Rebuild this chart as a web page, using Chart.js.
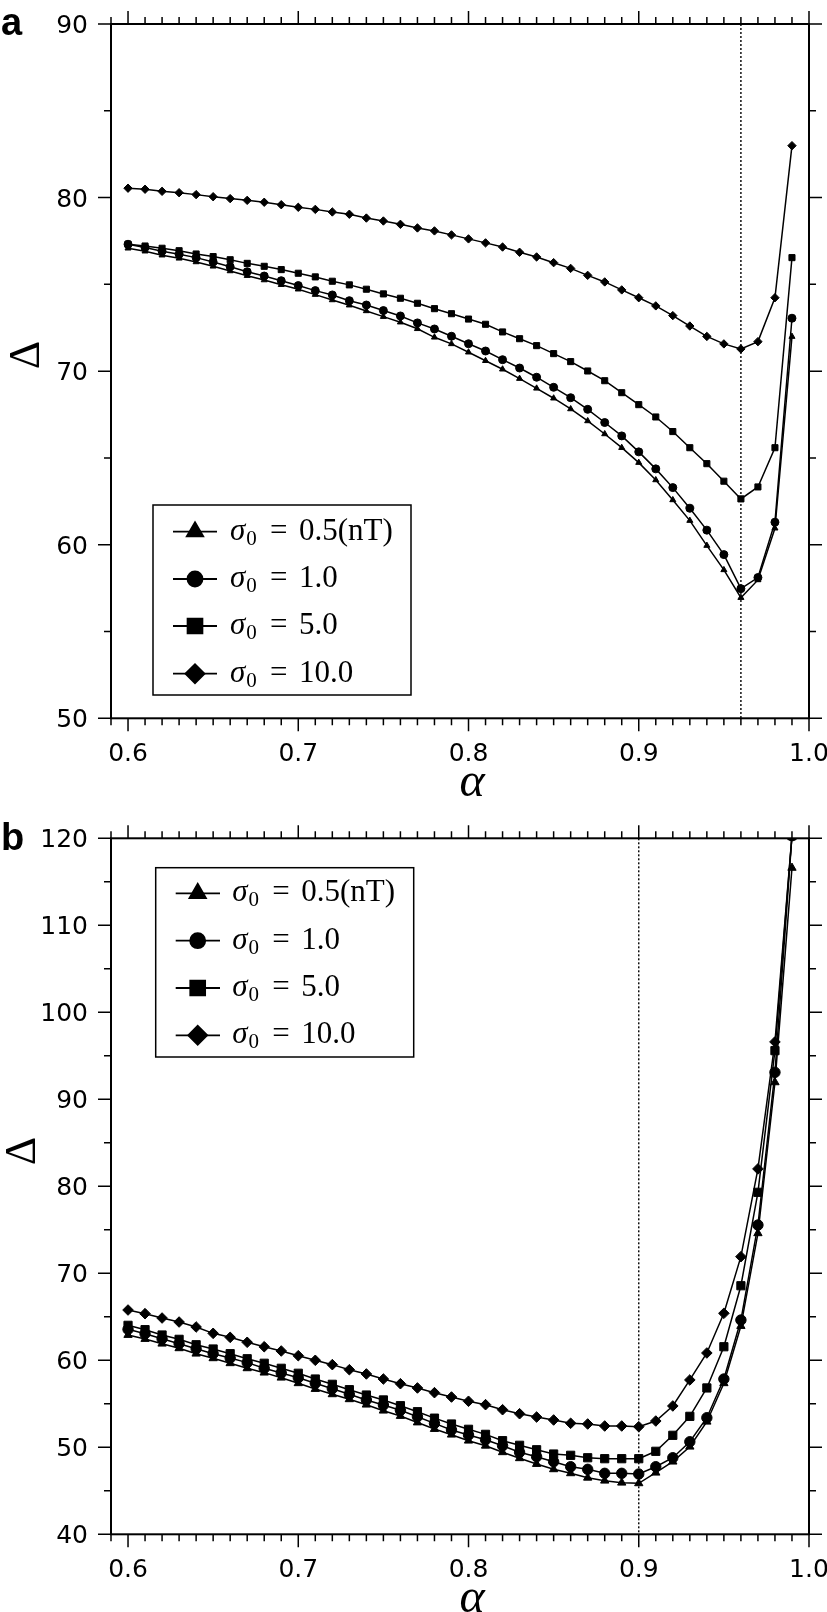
<!DOCTYPE html>
<html><head><meta charset="utf-8">
<script src="https://cdn.jsdelivr.net/npm/chart.js@4.4.1/dist/chart.umd.min.js"></script>
<style>
html,body{margin:0;padding:0;background:#fff;}
#wrap{position:relative;width:827px;height:1612px;overflow:hidden;}
.c{position:absolute;left:0;width:827px;}
canvas{display:block;}
</style></head><body>
<div id="wrap">
<div class="c" style="top:0;height:800px"><canvas id="ca" width="827" height="800"></canvas></div>
<div class="c" style="top:800px;height:812px"><canvas id="cb" width="827" height="812"></canvas></div>
</div>
<script>
// ---- data ----
const alpha = [0.60,0.61,0.62,0.63,0.64,0.65,0.66,0.67,0.68,0.69,
               0.70,0.71,0.72,0.73,0.74,0.75,0.76,0.77,0.78,0.79,
               0.80,0.81,0.82,0.83,0.84,0.85,0.86,0.87,0.88,0.89,
               0.90,0.91,0.92,0.93,0.94,0.95,0.96,0.97,0.98,0.99];

const seriesLabels = ["0.5(nT)", "1.0", "5.0", "10.0"];

// panel a
const a_s05 = [77.08,76.91,76.68,76.50,76.29,76.04,75.77,75.50,75.25,74.98,
               74.72,74.41,74.10,73.80,73.47,73.14,72.82,72.44,71.95,71.57,
               71.09,70.60,70.11,69.57,69.01,68.44,67.82,67.13,66.38,65.59,
               64.73,63.73,62.58,61.39,59.95,58.55,56.95,57.97,60.95,71.99];
const a_s1  = [77.31,77.12,76.91,76.73,76.54,76.29,76.02,75.73,75.48,75.21,
               74.93,74.64,74.39,74.06,73.81,73.49,73.18,72.78,72.43,72.01,
               71.58,71.16,70.66,70.18,69.65,69.07,68.47,67.80,67.04,66.27,
               65.35,64.37,63.29,62.10,60.84,59.43,57.47,58.11,61.30,73.05];
const a_s5  = [77.31,77.21,77.08,76.94,76.75,76.60,76.42,76.21,76.04,75.85,
               75.64,75.43,75.18,74.97,74.72,74.45,74.20,73.91,73.60,73.31,
               73.00,72.70,72.26,71.87,71.47,71.01,70.55,70.01,69.45,68.76,
               68.07,67.36,66.52,65.59,64.67,63.66,62.64,63.33,65.59,76.54];
const a_s10 = [80.54,80.48,80.36,80.28,80.17,80.05,79.94,79.84,79.73,79.59,
               79.44,79.32,79.17,79.04,78.82,78.65,78.46,78.25,78.08,77.85,
               77.62,77.39,77.15,76.85,76.58,76.25,75.92,75.52,75.14,74.68,
               74.23,73.76,73.20,72.60,72.00,71.57,71.28,71.70,74.23,82.99];

// panel b
const b_s05 = [62.91,62.45,61.91,61.38,60.76,60.23,59.66,59.08,58.58,58.00,
               57.36,56.70,56.09,55.52,54.90,54.21,53.60,52.85,52.10,51.45,
               50.76,50.18,49.43,48.74,48.08,47.47,47.01,46.50,46.16,45.93,
               45.86,47.08,48.35,50.07,52.94,57.36,63.94,74.60,91.95,116.6];
const b_s1  = [63.56,63.06,62.48,61.91,61.33,60.76,60.26,59.73,59.08,58.54,
               58.00,57.36,56.74,56.09,55.44,54.86,54.25,53.52,52.75,51.99,
               51.41,50.87,50.18,49.43,48.92,48.35,47.77,47.47,47.01,47.01,
               46.93,47.77,48.80,50.64,53.40,57.85,64.63,75.55,93.10,120.3];
const b_s5  = [64.02,63.52,62.91,62.41,61.79,61.30,60.76,60.18,59.66,59.08,
               58.51,57.85,57.24,56.62,56.01,55.44,54.78,54.09,53.35,52.68,
               52.07,51.49,50.76,50.23,49.72,49.23,49.08,48.80,48.69,48.69,
               48.69,49.54,51.38,53.56,56.82,61.56,68.57,79.31,95.59,120.3];
const b_s10 = [65.78,65.36,64.86,64.40,63.83,63.10,62.64,62.07,61.56,61.07,
               60.53,60.00,59.50,58.92,58.43,57.85,57.31,56.82,56.28,55.78,
               55.29,54.90,54.32,53.86,53.48,53.14,52.76,52.68,52.45,52.45,
               52.37,53.02,54.75,57.74,60.84,65.40,71.91,82.00,96.60,120.3];

// ticks
const xTickLabels = [0.6, 0.7, 0.8, 0.9, 1.0];
const aYTicks = [50, 60, 70, 80, 90];
const bYTicks = [40, 50, 60, 70, 80, 90, 100, 110, 120];
const aOptimum = 0.96;
const bOptimum = 0.90;

// ---- drawing ----
const pointStyles = ['triangle', 'circle', 'rect', 'rectRot'];

function mkDatasets(arrs, radii) {
  return arrs.map((arr, k) => ({
    label: seriesLabels[k],
    data: alpha.map((x, i) => ({x: x, y: arr[i]})),
    borderColor: '#000', backgroundColor: '#000',
    borderWidth: 1.5, pointStyle: pointStyles[k],
    pointRadius: radii[k], pointBorderWidth: 1,
    pointBackgroundColor: '#000', pointBorderColor: '#000',
    tension: 0
  }));
}

function drawMarker(ctx, style, r, x, y) {
  if (Chart.helpers && Chart.helpers.drawPoint) {
    Chart.helpers.drawPoint(ctx, {pointStyle: style, radius: r, rotation: 0, borderWidth: 1}, x, y);
  }
}

function framePlugin(cfg) {
  return {
    id: 'frame' + cfg.key,
    beforeDatasetsDraw(chart) {
      const ctx = chart.ctx, xs = chart.scales.x, a = chart.chartArea;
      const vx = xs.getPixelForValue(cfg.vline);
      ctx.save();
      ctx.strokeStyle = '#000'; ctx.lineWidth = 1.4; ctx.setLineDash([2, 2]);
      ctx.beginPath(); ctx.moveTo(vx, a.top); ctx.lineTo(vx, a.bottom); ctx.stroke();
      ctx.restore();
    },
    afterDraw(chart) {
      const ctx = chart.ctx, xs = chart.scales.x, ys = chart.scales.y, a = chart.chartArea;
      ctx.save();
      ctx.strokeStyle = '#000'; ctx.fillStyle = '#000';
      // frame
      ctx.lineWidth = 2;
      ctx.strokeRect(a.left, a.top, a.right - a.left, a.bottom - a.top);
      // x ticks (minor every 0.01)
      ctx.lineWidth = 1.5;
      ctx.beginPath();
      for (let i = 59; i <= 100; i++) {
        const px = xs.getPixelForValue(i / 100);
        const L = (i % 10 === 0) ? 13 : 7;
        ctx.moveTo(px, a.bottom); ctx.lineTo(px, a.bottom + L);
        ctx.moveTo(px, a.top); ctx.lineTo(px, a.top - L);
      }
      // y ticks (minor every 5)
      const yMin = cfg.yTicks[0], yMax = cfg.yTicks[cfg.yTicks.length - 1];
      for (let v = yMin; v <= yMax; v += 5) {
        const py = ys.getPixelForValue(v);
        const L = cfg.yTicks.includes(v) ? 13 : 7;
        ctx.moveTo(a.left, py); ctx.lineTo(a.left - L, py);
        ctx.moveTo(a.right, py); ctx.lineTo(a.right + L, py);
      }
      ctx.stroke();
      // tick labels
      ctx.font = '25px "DejaVu Sans"';
      ctx.textBaseline = 'alphabetic';
      ctx.textAlign = 'center';
      xTickLabels.forEach(v => {
        ctx.fillText(v.toFixed(1), xs.getPixelForValue(v), a.bottom + 43);
      });
      ctx.textAlign = 'right';
      cfg.yTicks.forEach(v => {
        ctx.fillText(String(v), a.left - 23, ys.getPixelForValue(v) + 9);
      });
      // panel letter
      ctx.textAlign = 'left';
      ctx.font = 'bold 38px "Liberation Sans"';
      ctx.fillText(cfg.letter, 1, cfg.letterY);
      // axis titles
      ctx.font = 'italic 48px "Liberation Serif"';
      ctx.textAlign = 'center';
      ctx.fillText('\u03B1', 472, a.bottom + 78);
      ctx.save();
      ctx.translate(cfg.deltaX, cfg.deltaY);
      ctx.rotate(-Math.PI / 2);
      ctx.font = '44px "Liberation Serif"';
      ctx.textAlign = 'center';
      ctx.fillText('\u0394', 0, 0);
      ctx.restore();
      // legend
      const L = cfg.legend;
      ctx.lineWidth = 1.5;
      ctx.strokeRect(L.x0, L.y0, L.x1 - L.x0, L.y1 - L.y0);
      chart.data.datasets.forEach((ds, k) => {
        const ry = L.rows[k];
        ctx.lineWidth = 1.8;
        ctx.beginPath(); ctx.moveTo(L.lx0, ry); ctx.lineTo(L.lx1, ry); ctx.stroke();
        ctx.fillStyle = '#000'; ctx.strokeStyle = '#000';
        drawMarker(ctx, pointStyles[k], [9.5, 7.5, 10.5, 9.5][k], L.mx, ry);
        // text: sigma_0 = value
        ctx.textAlign = 'left';
        ctx.font = 'italic 31px "Liberation Serif"';
        ctx.fillText('\u03C3', L.tx, ry + 8);
        const sw = ctx.measureText('\u03C3').width;
        ctx.font = '21px "Liberation Serif"';
        ctx.fillText('0', L.tx + sw + 1, ry + 13);
        ctx.font = '31px "Liberation Serif"';
        ctx.fillText('=', L.tx + 40, ry + 8);
        ctx.fillText(ds.label, L.tx + 69, ry + 8);
      });
      ctx.restore();
    }
  };
}

function mkChart(id, H, top, bottom, yTicks, arrs, radii, cfg) {
  cfg.yTicks = yTicks;
  return new Chart(document.getElementById(id), {
    type: 'line',
    data: {datasets: mkDatasets(arrs, radii)},
    options: {
      responsive: false, animation: false, maintainAspectRatio: false,
      layout: {padding: {left: 111, right: 18, top: top, bottom: H - bottom}},
      plugins: {legend: {display: false}, tooltip: {enabled: false}},
      scales: {
        x: {type: 'linear', display: false, min: 0.59, max: 1.0},
        y: {type: 'linear', display: false, min: yTicks[0], max: yTicks[yTicks.length - 1]}
      }
    },
    plugins: [framePlugin(cfg)]
  });
}

mkChart('ca', 800, 24, 718.3, aYTicks, [a_s05, a_s1, a_s5, a_s10], [3.5, 4, 4.3, 4.2], {
  key: 'a', vline: aOptimum, letter: 'a', letterY: 35, deltaX: 39, deltaY: 355,
  legend: {x0: 153, y0: 505, x1: 411, y1: 695, rows: [531.7, 579, 626, 673.7], lx0: 173, lx1: 217, mx: 195, tx: 230}
});
mkChart('cb', 812, 38.3, 734.3, bYTicks, [b_s05, b_s1, b_s5, b_s10], [4.8, 5.2, 5.8, 5.3], {
  key: 'b', vline: bOptimum, letter: 'b', letterY: 50, deltaX: 35, deltaY: 351,
  legend: {x0: 155.7, y0: 67.7, x1: 413.7, y1: 257, rows: [93.3, 140.7, 188, 235.3], lx0: 175.7, lx1: 220, mx: 197.7, tx: 232.3}
});
</script>
</body></html>
